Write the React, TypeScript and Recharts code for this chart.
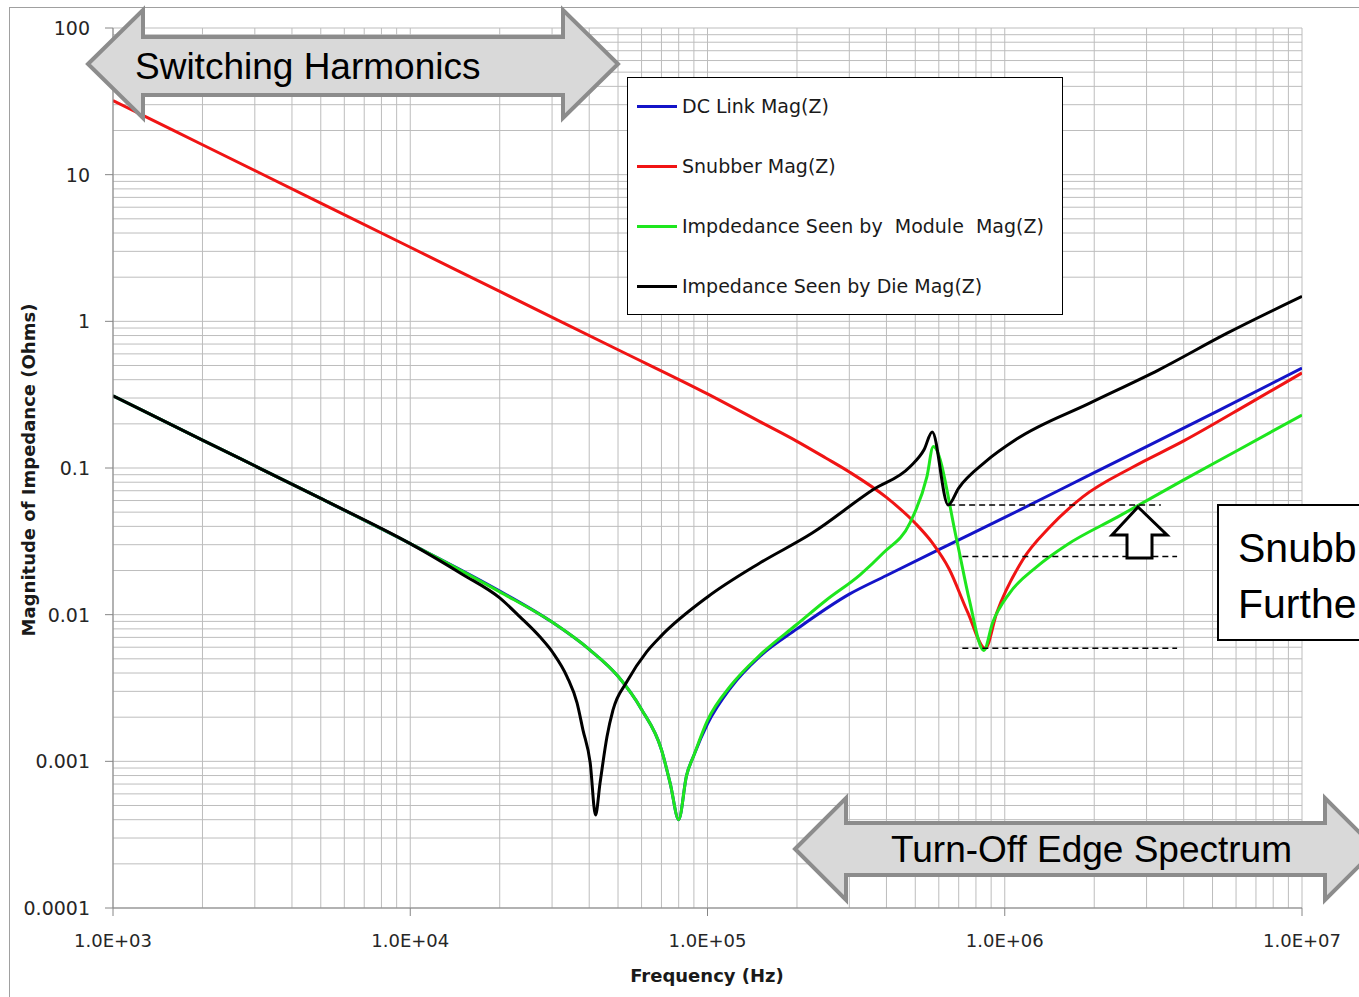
import React from "react";
import {
  LineChart,
  Line,
  XAxis,
  YAxis,
  CartesianGrid,
  ReferenceLine,
} from "recharts";

const W = 1359;
const H = 997;
const PLOT_LEFT = 113;
const PLOT_RIGHT = 1302;
const PLOT_TOP = 28;
const PLOT_BOTTOM = 908;

// DC link impedance
const dcLinkFreq = [
  1e3, 2e3, 5e3, 1e4, 2e4, 3e4, 4e4, 5e4, 6e4, 7e4, 7.5e4, 8e4, 8.5e4, 9e4,
  1e5, 1.2e5, 1.5e5, 2e5, 3e5, 4e5, 6e5, 1e6, 2e6, 5e6, 1e7,
];
const dcLinkMag = [
  0.31, 0.155, 0.062, 0.0305, 0.0145, 0.0089, 0.0058, 0.0038, 0.00226, 0.0012,
  0.0007, 0.0004, 0.0008, 0.0011, 0.0018, 0.0032, 0.0052, 0.008, 0.0138,
  0.0185, 0.0278, 0.046, 0.093, 0.235, 0.48,
];

// snubber impedance
const snubberFreq = [
  1e3, 2e3, 5e3, 1e4, 2e4, 5e4, 1e5, 1.5e5, 2e5, 2.5e5, 3e5, 4e5, 5e5, 5.7e5,
  6.5e5, 7.5e5, 8.6e5, 9.4e5, 1.15e6, 1.42e6, 1.83e6, 2.7e6, 4e6, 6.7e6, 1e7,
];
const snubberMag = [
  32, 16, 6.4, 3.2, 1.6, 0.64, 0.32, 0.207, 0.152, 0.117, 0.094, 0.063, 0.042,
  0.031, 0.0205, 0.0104, 0.0059, 0.0103, 0.0237, 0.0397, 0.0635, 0.1016,
  0.153, 0.278, 0.445,
];

// seen by module
const moduleFreq = [
  1e3, 2e3, 5e3, 1e4, 2e4, 3e4, 4e4, 5e4, 6e4, 7e4, 7.5e4, 8e4, 8.5e4, 9e4,
  1e5, 1.2e5, 1.5e5, 2e5, 2.5e5, 3.26e5, 3.9e5, 4.8e5, 5.47e5, 5.75e5, 6.9e5,
  7.6e5, 8.5e5, 9.1e5, 1.04e6, 1.28e6, 1.62e6, 2.4e6, 4e6, 6e6, 1e7,
];
const moduleMag = [
  0.31, 0.155, 0.062, 0.0305, 0.0143, 0.0089, 0.0058, 0.0038, 0.00226, 0.0012,
  0.0007, 0.0004, 0.0008, 0.0011, 0.0019, 0.0033, 0.0053, 0.0086, 0.0125,
  0.0187, 0.0263, 0.0423, 0.087, 0.14, 0.032, 0.0126, 0.0057, 0.0088, 0.0141,
  0.0212, 0.030, 0.0464, 0.083, 0.13, 0.23,
];

// seen by die
const dieFreq = [
  1e3, 2e3, 5e3, 1e4, 1.5e4, 2e4, 2.34e4, 2.73e4, 3.02e4, 3.37e4, 3.64e4,
  3.81e4, 4.03e4, 4.2e4, 4.35e4, 4.59e4, 4.81e4, 5.36e4, 6.25e4, 7e4, 1e5,
  1.5e5, 2.25e5, 3.6e5, 4.8e5, 5.35e5, 5.7e5, 6.45e5, 7e5, 8.6e5, 1.1e6,
  1.94e6, 3.3e6, 5.6e6, 1e7,
];
const dieMag = [
  0.31, 0.155, 0.062, 0.0305, 0.0188, 0.013, 0.00966, 0.00706, 0.0055, 0.00377,
  0.0025, 0.00164, 0.00098, 0.00043, 0.00071, 0.00147, 0.00224, 0.0035, 0.0056,
  0.0072, 0.0132, 0.0225, 0.036, 0.071, 0.102, 0.133, 0.176, 0.056, 0.073,
  0.11, 0.158, 0.278, 0.467, 0.83, 1.48,
];

// dashed guide levels
const guideLevel = [0.056, 0.0249, 0.0059];
const guideFrom = [6.5e5, 7.2e5, 7.2e5];
const guideTo = [3.35e6, 3.8e6, 3.8e6];

const xMajor = [1e3, 1e4, 1e5, 1e6, 1e7];
const xTickLabels = ["1.0E+03", "1.0E+04", "1.0E+05", "1.0E+06", "1.0E+07"];
const yMajor = [0.0001, 0.001, 0.01, 0.1, 1, 10, 100];
const yTickLabels = ["0.0001", "0.001", "0.01", "0.1", "1", "10", "100"];

const withMinors = (majors: number[]) => {
  const out: number[] = [];
  majors.forEach((m, i) => {
    if (i === majors.length - 1) {
      out.push(m);
      return;
    }
    for (let k = 1; k < 10; k++) out.push(m * k);
  });
  return out;
};

const majorIndex = (majors: number[], v: number) =>
  majors.findIndex((m) => Math.abs(Math.log10(m) - Math.log10(v)) < 1e-6);

const toPoints = (f: number[], m: number[]) =>
  f.map((freq, i) => ({ freq, mag: m[i] }));

const series = [
  { name: "DC Link Mag(Z)", color: "#1414c8", data: toPoints(dcLinkFreq, dcLinkMag) },
  { name: "Snubber Mag(Z)", color: "#f01414", data: toPoints(snubberFreq, snubberMag) },
  { name: "Impdedance Seen by  Module  Mag(Z)", color: "#1ee61e", data: toPoints(moduleFreq, moduleMag) },
  { name: "Impedance Seen by Die Mag(Z)", color: "#000000", data: toPoints(dieFreq, dieMag) },
];

const tickFont = { fontFamily: "DejaVu Sans", fill: "#262626" };

const XTick = (props: any) => {
  const { x, payload } = props;
  const i = majorIndex(xMajor, payload.value);
  if (i < 0) return <g />;
  return (
    <g>
      <line x1={x} x2={x} y1={PLOT_BOTTOM} y2={PLOT_BOTTOM + 8} stroke="#868686" />
      <text x={x} y={PLOT_BOTTOM + 39} textAnchor="middle" fontSize={18} {...tickFont}>
        {xTickLabels[i]}
      </text>
    </g>
  );
};

const YTick = (props: any) => {
  const { y, payload } = props;
  const i = majorIndex(yMajor, payload.value);
  if (i < 0) return <g />;
  return (
    <g>
      <line x1={PLOT_LEFT - 8} x2={PLOT_LEFT} y1={y} y2={y} stroke="#868686" />
      <text
        x={PLOT_LEFT - 23}
        y={y}
        textAnchor="end"
        dominantBaseline="central"
        fontSize={19}
        {...tickFont}
      >
        {yTickLabels[i]}
      </text>
    </g>
  );
};

const arrowPath = (
  tipL: number,
  baseL: number,
  baseR: number,
  tipR: number,
  headTop: number,
  bodyTop: number,
  bodyBot: number,
  headBot: number
) => {
  const mid = (headTop + headBot) / 2;
  return `M${tipL},${mid} L${baseL},${headTop} L${baseL},${bodyTop} L${baseR},${bodyTop} L${baseR},${headTop} L${tipR},${mid} L${baseR},${headBot} L${baseR},${bodyBot} L${baseL},${bodyBot} L${baseL},${headBot} Z`;
};

const Overlay = () => (
  <svg
    width={W}
    height={H}
    style={{ position: "absolute", left: 0, top: 0, pointerEvents: "none" }}
  >
    <path
      d={arrowPath(88, 143, 563, 618, 10, 37, 95, 118)}
      fill="#d9d9d9"
      stroke="#8c8c8c"
      strokeWidth={4}
    />
    <text x={135} y={79} fontFamily="Liberation Sans" fontSize={37} fill="#000">
      Switching Harmonics
    </text>
    <path
      d={arrowPath(795, 846, 1325, 1376, 798, 823, 875, 900)}
      fill="#d9d9d9"
      stroke="#8c8c8c"
      strokeWidth={4}
    />
    <text x={891} y={862} fontFamily="Liberation Sans" fontSize={37} fill="#000">
      Turn-Off Edge Spectrum
    </text>
    <path
      d="M1138,507 L1167,535 L1152,535 L1152,558 L1127,558 L1127,535 L1112,535 Z"
      fill="#fff"
      stroke="#000"
      strokeWidth={3}
    />
    <rect x={1218} y={505} width={300} height={135} fill="#fff" stroke="#000" strokeWidth={2} />
    <text x={1238} y={562} fontFamily="Liberation Sans" fontSize={41} fill="#000">
      Snubb
    </text>
    <text x={1238} y={618} fontFamily="Liberation Sans" fontSize={41} fill="#000">
      Furthe
    </text>
    <text
      x={35}
      y={470}
      transform="rotate(-90 35 470)"
      textAnchor="middle"
      fontFamily="DejaVu Sans"
      fontWeight="bold"
      fontSize={18}
      fill="#1a1a1a"
    >
      Magnitude of Impedance (Ohms)
    </text>
    <text
      x={707}
      y={982}
      textAnchor="middle"
      fontFamily="DejaVu Sans"
      fontWeight="bold"
      fontSize={18}
      fill="#1a1a1a"
    >
      Frequency (Hz)
    </text>
  </svg>
);

const LegendBox = () => (
  <div
    style={{
      position: "absolute",
      left: 627,
      top: 77,
      width: 434,
      height: 236,
      border: "1.5px solid #000",
      background: "#fff",
    }}
  >
    {series.map((s, i) => (
      <div
        key={s.name}
        style={{
          position: "absolute",
          left: 9,
          top: 16 + i * 60,
          height: 24,
          display: "flex",
          alignItems: "center",
          whiteSpace: "pre",
          fontFamily: "DejaVu Sans",
          fontSize: 19,
          color: "#1a1a1a",
        }}
      >
        <span style={{ display: "inline-block", width: 40, height: 3, background: s.color, marginRight: 5 }} />
        {s.name}
      </div>
    ))}
  </div>
);

export default function App() {
  return (
    <div style={{ position: "relative", width: W, height: H, overflow: "hidden", background: "#fff" }}>
      <style>{"body{margin:0;overflow:hidden}"}</style>
      <div
        style={{
          position: "absolute",
          left: 9,
          top: 7,
          width: 2000,
          height: 2000,
          border: "1px solid #a0a0a0",
        }}
      />
      <div style={{ position: "absolute", left: 0, top: 0 }}>
        <LineChart
          width={W}
          height={H}
          margin={{ top: PLOT_TOP, right: W - PLOT_RIGHT, left: 0, bottom: 0 }}
        >
          <CartesianGrid stroke="#bdbdbd" strokeWidth={1} />
          <XAxis
            dataKey="freq"
            type="number"
            scale="log"
            domain={[1e3, 1e7]}
            allowDataOverflow
            ticks={withMinors(xMajor)}
            interval={0}
            tick={<XTick />}
            tickLine={false}
            axisLine={{ stroke: "#868686" }}
            height={H - PLOT_BOTTOM}
          />
          <YAxis
            dataKey="mag"
            type="number"
            scale="log"
            domain={[1e-4, 100]}
            allowDataOverflow
            ticks={withMinors(yMajor)}
            interval={0}
            tick={<YTick />}
            tickLine={false}
            axisLine={{ stroke: "#868686" }}
            width={PLOT_LEFT}
          />
          {series.map((s) => (
            <Line
              key={s.name}
              data={s.data}
              dataKey="mag"
              name={s.name}
              type="monotoneX"
              stroke={s.color}
              strokeWidth={3}
              strokeLinejoin="round"
              dot={false}
              isAnimationActive={false}
            />
          ))}
          {guideLevel.map((lv, i) => (
            <ReferenceLine
              key={i}
              segment={[
                { x: guideFrom[i], y: lv },
                { x: guideTo[i], y: lv },
              ]}
              stroke="#000"
              strokeWidth={1.5}
              strokeDasharray="6 4"
            />
          ))}
        </LineChart>
      </div>
      <LegendBox />
      <Overlay />
    </div>
  );
}
